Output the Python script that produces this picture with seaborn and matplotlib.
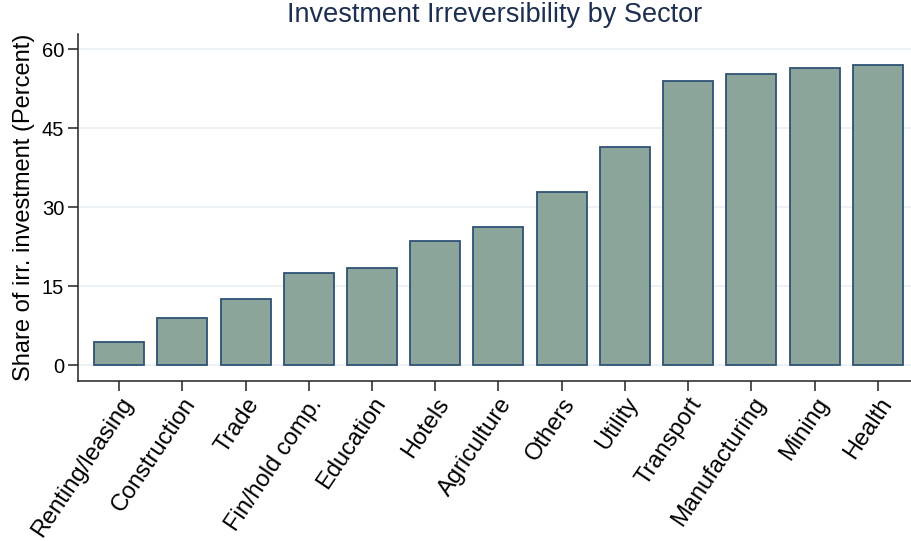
import numpy as np
import pandas as pd
import matplotlib
matplotlib.use("Agg")
import matplotlib.pyplot as plt
import seaborn as sns

# data
sectors = ["Renting/leasing", "Construction", "Trade", "Fin/hold comp.", "Education",
           "Hotels", "Agriculture", "Others", "Utility", "Transport",
           "Manufacturing", "Mining", "Health"]
share = [4.3, 8.9, 12.6, 17.5, 18.5, 23.6, 26.2, 32.8, 41.4, 54.0, 55.3, 56.5, 57.0]
yticks = [0, 15, 30, 45, 60]

df = pd.DataFrame({"sector": sectors, "share": share})

sns.set_theme(style="white")
plt.rcParams["font.family"] = ["Liberation Sans", "DejaVu Sans"]

fig = plt.figure(figsize=(9.12, 5.41), dpi=100)
ax = fig.add_axes([0.0855, 0.2957, 0.9145, 0.641])

sns.barplot(data=df, x="sector", y="share", color="#8ca59b", saturation=1,
            edgecolor="#2f5275", linewidth=1.3, width=0.79, ax=ax)

ax.set_xlim(-0.65, 12.54)
ax.set_ylim(-3.04, 62.85)
ax.set_yticks(yticks)
ax.yaxis.grid(True, color="#e8eff2", linewidth=1.2)
ax.set_axisbelow(True)

for s in ["top", "right"]:
    ax.spines[s].set_visible(False)
for s in ["left", "bottom"]:
    ax.spines[s].set_color("#222222")
    ax.spines[s].set_linewidth(1.1)

ax.tick_params(axis="both", which="major", direction="out", length=7, width=1.1,
               color="#222222", labelcolor="black", pad=3, left=True, bottom=True)
ax.tick_params(axis="y", labelsize=14.5)
ax.tick_params(axis="x", labelsize=17, pad=2)
plt.setp(ax.get_xticklabels(), rotation=56, ha="right", rotation_mode="anchor")

ax.set_xlabel("")
ax.set_ylabel("Share of irr. investment (Percent)", fontsize=17, color="black", labelpad=5)
ax.set_title("Investment Irreversibility by Sector", fontsize=19.5, color="#1c2f52", pad=9)

fig.savefig("out.png", dpi=100)
